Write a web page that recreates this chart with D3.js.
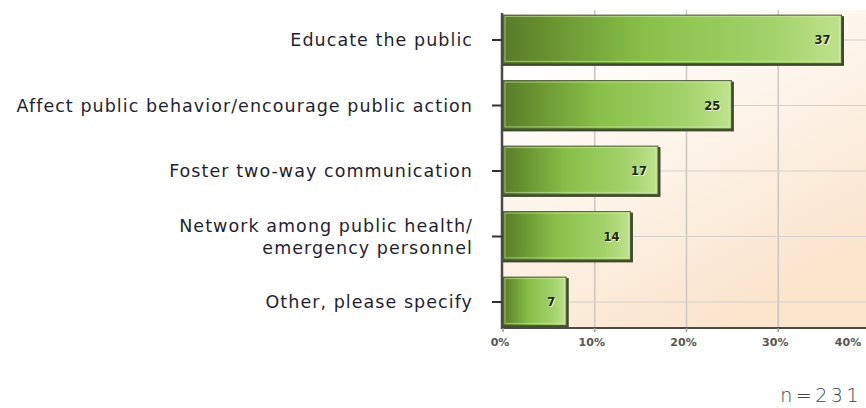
<!DOCTYPE html>
<html>
<head>
<meta charset="utf-8">
<script src="https://cdn.jsdelivr.net/npm/d3@7"></script>
<style>
  body { margin: 0; background: #ffffff; }
  svg { display: block; }
</style>
</head>
<body>
<svg id="chart" width="866" height="408"></svg>
<script>
// Survey responses: purpose of communication (percent of respondents)
const categories = [
  "Educate the public",
  "Affect public behavior/encourage public action",
  "Foster two-way communication",
  "Network among public health/\nemergency personnel",
  "Other, please specify"
];
const values = [37, 25, 17, 14, 7];
const xTicks = [0, 10, 20, 30, 40];
const sampleNote = "n=231";

const W = 866, H = 408;
const svg = d3.select("#chart");
const defs = svg.append("defs");

const plotLeft = 502, plotTop = 10, plotRight = W;

const x = d3.scaleLinear().domain([0, 40]).range([503, 870]);
const y = d3.scaleBand()
  .domain(categories)
  .range([7.25, 334.75])
  .paddingInner(0.24)
  .paddingOuter(0.12);

const baseY = y(categories[categories.length - 1]) + y.bandwidth() + 1;

// plot background: white fading to warm peach
const bg = defs.append("linearGradient").attr("id", "bgGrad")
  .attr("x1", "0").attr("y1", "0").attr("x2", "0.6").attr("y2", "1");
bg.append("stop").attr("offset", "0").attr("stop-color", "#ffffff");
bg.append("stop").attr("offset", "0.25").attr("stop-color", "#fffdfa");
bg.append("stop").attr("offset", "1").attr("stop-color", "#fae4cc");

// bar fill: dark olive on the left to pale green on the right
const barGrad = defs.append("linearGradient").attr("id", "barGrad")
  .attr("x1", "0").attr("y1", "0").attr("x2", "1").attr("y2", "0");
[["0", "#587a2a"], ["0.12", "#66902f"], ["0.42", "#88c049"], ["0.8", "#a3d26b"], ["1", "#bfe28d"]]
  .forEach(([o, c]) => barGrad.append("stop").attr("offset", o).attr("stop-color", c));

svg.append("rect")
  .attr("x", plotLeft).attr("y", plotTop)
  .attr("width", plotRight - plotLeft).attr("height", baseY - plotTop)
  .attr("fill", "url(#bgGrad)");

// vertical gridlines
svg.append("g").selectAll("line")
  .data(xTicks.filter(t => t > 0))
  .join("line")
  .attr("x1", d => x(d)).attr("x2", d => x(d))
  .attr("y1", plotTop).attr("y2", baseY)
  .attr("stroke", "#c9c6c4").attr("stroke-width", 1.5);

// horizontal gridlines at category centres
svg.append("g").selectAll("line")
  .data(categories)
  .join("line")
  .attr("x1", plotLeft).attr("x2", plotRight)
  .attr("y1", d => y(d) + y.bandwidth() / 2)
  .attr("y2", d => y(d) + y.bandwidth() / 2)
  .attr("stroke", "#d3d0cd").attr("stroke-width", 1);

// bars
const bars = svg.append("g").selectAll("g")
  .data(categories.map((c, i) => ({ c, v: values[i] })))
  .join("g");

// dark shadow edge on the right and bottom
bars.append("rect")
  .attr("x", x(0))
  .attr("y", d => y(d.c) + 1)
  .attr("width", d => x(d.v) - x(0) + 1.5)
  .attr("height", y.bandwidth())
  .attr("fill", "#3f4a2c");

bars.append("rect")
  .attr("x", x(0))
  .attr("y", d => y(d.c))
  .attr("width", d => x(d.v) - x(0) - 1)
  .attr("height", y.bandwidth() - 1.5)
  .attr("fill", "url(#barGrad)")
  .attr("stroke", "#4d5e33").attr("stroke-width", 1);

// thin light highlight inside the bar
bars.append("rect")
  .attr("x", x(0) + 2)
  .attr("y", d => y(d.c) + 1.5)
  .attr("width", d => x(d.v) - x(0) - 5)
  .attr("height", y.bandwidth() - 5)
  .attr("fill", "none")
  .attr("stroke", "#d9f0b4").attr("stroke-opacity", 0.55).attr("stroke-width", 1);

// value labels inside bar ends
bars.append("text")
  .attr("x", d => x(d.v) - 12)
  .attr("y", d => y(d.c) + y.bandwidth() / 2 + 4)
  .attr("text-anchor", "end")
  .attr("font-family", "DejaVu Sans, sans-serif")
  .attr("font-weight", "bold")
  .attr("font-size", 11.5)
  .attr("fill", "#ecf5dc")
  .attr("transform", "translate(1,1)")
  .text(d => d.v);
bars.append("text")
  .attr("x", d => x(d.v) - 12)
  .attr("y", d => y(d.c) + y.bandwidth() / 2 + 4)
  .attr("text-anchor", "end")
  .attr("font-family", "DejaVu Sans, sans-serif")
  .attr("font-weight", "bold")
  .attr("font-size", 11.5)
  .attr("fill", "#1e290c")
  .text(d => d.v);

// y axis line and ticks
svg.append("line")
  .attr("x1", plotLeft).attr("x2", plotLeft)
  .attr("y1", 13).attr("y2", baseY + 1)
  .attr("stroke", "#4a4a4a").attr("stroke-width", 2.5);
svg.append("g").selectAll("line")
  .data(categories)
  .join("line")
  .attr("x1", plotLeft - 10).attr("x2", plotLeft)
  .attr("y1", d => y(d) + y.bandwidth() / 2)
  .attr("y2", d => y(d) + y.bandwidth() / 2)
  .attr("stroke", "#333").attr("stroke-width", 2);

// category labels
const labels = svg.append("g").selectAll("text")
  .data(categories)
  .join("text")
  .attr("text-anchor", "end")
  .attr("font-family", "DejaVu Sans, sans-serif")
  .attr("font-size", 17.5)
  .attr("letter-spacing", 1.05)
  .attr("fill", "#1f1f30")
  .attr("transform", d => {
    const lines = d.split("\n").length;
    return `translate(473,${y(d) + y.bandwidth() / 2 + 6 - (lines - 1) * 11})`;
  });
labels.selectAll("tspan")
  .data(d => d.split("\n"))
  .join("tspan")
  .attr("x", 0)
  .attr("dy", (d, i) => i === 0 ? 0 : 22)
  .text(d => d);

// x axis line, ticks and labels
svg.append("line")
  .attr("x1", plotLeft).attr("x2", plotRight)
  .attr("y1", baseY).attr("y2", baseY)
  .attr("stroke", "#4a4a4a").attr("stroke-width", 2);
svg.append("g").selectAll("line")
  .data(xTicks)
  .join("line")
  .attr("x1", d => x(d)).attr("x2", d => x(d))
  .attr("y1", baseY).attr("y2", baseY + 4)
  .attr("stroke", "#999").attr("stroke-width", 1.5);
svg.append("g").selectAll("text")
  .data(xTicks)
  .join("text")
  .attr("x", d => Math.min(x(d) - 3, W - 18))
  .attr("y", baseY + 18)
  .attr("text-anchor", "middle")
  .attr("font-family", "DejaVu Sans, sans-serif")
  .attr("font-weight", "bold")
  .attr("font-size", 11)
  .attr("fill", "#555")
  .text(d => d + "%");

// sample size note
svg.append("text")
  .attr("x", 862).attr("y", 402)
  .attr("text-anchor", "end")
  .attr("font-family", "DejaVu Sans, sans-serif")
  .attr("font-weight", 300)
  .attr("font-size", 19)
  .attr("letter-spacing", 3.5)
  .attr("fill", "#444")
  .text(sampleNote);
</script>
</body>
</html>
